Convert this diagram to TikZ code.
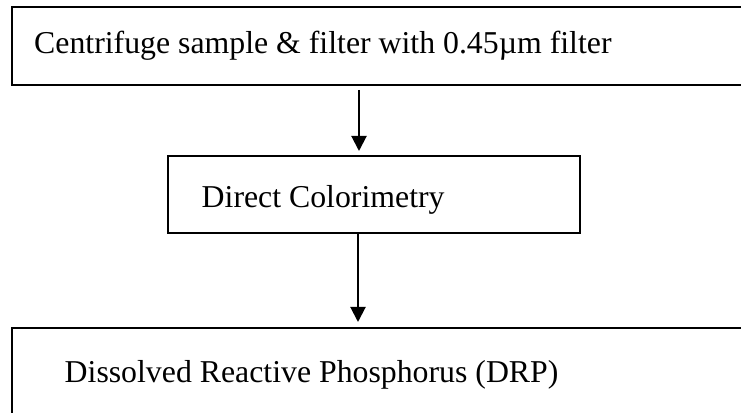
\documentclass[tikz,border=0pt]{standalone}
\usepackage{fontspec}
\setmainfont{Liberation Serif}
\usetikzlibrary{arrows.meta}
\begin{document}
\begin{tikzpicture}[x=1pt,y=1pt,
  stagebox/.style={draw, line width=2pt, rectangle, inner sep=0pt, anchor=north west},
  caption/.style={inner sep=0pt, anchor=base west, font=\fontsize{31.8}{38}\selectfont},
  flow/.style={line width=2pt, -{Triangle[length=15pt,width=15pt]}}]
  \clip (0,0) rectangle (741,412);
  \fill[white] (0,0) rectangle (741,412);

  % process boxes (the outer two run off the page edge)
  \node[stagebox, minimum width=760pt, minimum height=78pt] (prep) at (11,406) {};
  \node[stagebox, minimum width=412pt, minimum height=77pt] (color) at (167,257) {};
  \node[stagebox, minimum width=760pt, minimum height=120pt] (drp) at (11,85) {};

  % box texts
  \node[caption] (prept) at (34,358) {Centrifuge sample \& filter with 0.45µm filter};
  \node[caption] (colort) at (201.5,204) {Direct Colorimetry};
  \node[caption] (drpt) at (64.5,29) {Dissolved Reactive Phosphorus (DRP)};

  % connectors
  \coordinate (xa) at (359,0);
  \coordinate (xb) at (358,0);
  \draw[flow, shorten <=4pt, shorten >=4pt] (prep.south -| xa) -- (color.north -| xa);
  \draw[flow, shorten >=5pt] (color.south -| xb) -- (drp.north -| xb);
\end{tikzpicture}
\end{document}
